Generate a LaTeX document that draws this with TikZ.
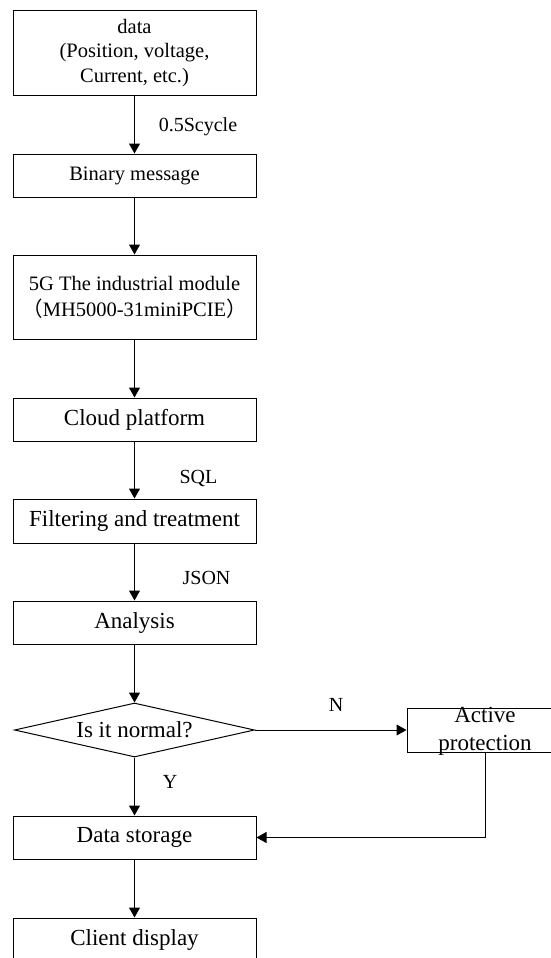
\documentclass[tikz,border=0pt]{standalone}
\usepackage{fontspec}
\setmainfont{Liberation Serif}
\newfontfamily\cjkfont{Noto Sans CJK SC}
\usetikzlibrary{shapes.geometric,arrows.meta}
\begin{document}
\begin{tikzpicture}[x=1pt,y=-1pt,
  box/.style={draw, line width=1pt, minimum width=243pt, inner sep=0pt, align=center},
  big/.style={font=\fontsize{23}{28}\selectfont},
  small/.style={font=\fontsize{20.5}{24.5}\selectfont},
  lbl/.style={font=\fontsize{20}{24}\selectfont, inner sep=0pt},
  arr/.style={line width=1pt, -{Triangle[length=10pt,width=11pt]}}]
\useasboundingbox (0,0) rectangle (550,958);

\node[box, small, minimum height=84pt] (data) at (134.5,53) {data\\(Position, voltage,\\Current, etc.)};
\node[box, small, minimum height=43pt] (bin) at (134.5,175.5) {Binary message};
\node[box, minimum height=84pt, font=\fontsize{20.5}{26}\selectfont] (mod) at (134.5,297) {5G The industrial module\\{\cjkfont （}MH5000-31miniPCIE{\cjkfont ）}};
\node[box, big, minimum height=43pt] (cloud) at (134.5,419.5) {Cloud platform};
\node[box, big, minimum height=44pt] (filt) at (134.5,521) {Filtering and treatment};
\node[box, big, minimum height=43pt] (ana) at (134.5,622.5) {Analysis};
\node[diamond, draw, line width=1pt, minimum width=240pt, minimum height=54pt, inner sep=0pt] (dec) at (134.5,730) {};
\node[big, inner sep=0pt] (dect) at (134.5,730) {Is it normal?};
\node[draw, line width=1pt, minimum width=156pt, minimum height=44pt] (act) at (485,730) {};
\node[big, align=center, inner sep=0pt] (actt) at (485,731) {Active\\protection};
\node[box, big, minimum height=43pt] (ds) at (134.5,837.5) {Data storage};
\node[box, big, minimum height=43pt] (cd) at (134.5,939.5) {Client display};

\draw[arr] (data) -- (bin);
\draw[arr] (bin) -- (mod);
\draw[arr] (mod) -- (cloud);
\draw[arr] (cloud) -- (filt);
\draw[arr] (filt) -- (ana);
\draw[arr] (ana) -- (dec.north);
\draw[arr] (dec.south) -- (ds.north);
\draw[arr] (dec.east) -- (act.west);
\draw[arr] (act.south) |- (ds.east);
\draw[arr] (ds) -- (cd);

\node[lbl] (l1) at (198,127) {0.5Scycle};
\node[lbl] (l2) at (198.5,478) {SQL};
\node[lbl] (l3) at (206.5,578) {JSON};
\node[lbl] (l4) at (336,705) {N};
\node[lbl] (l5) at (170,782) {Y};
\end{tikzpicture}
\end{document}
